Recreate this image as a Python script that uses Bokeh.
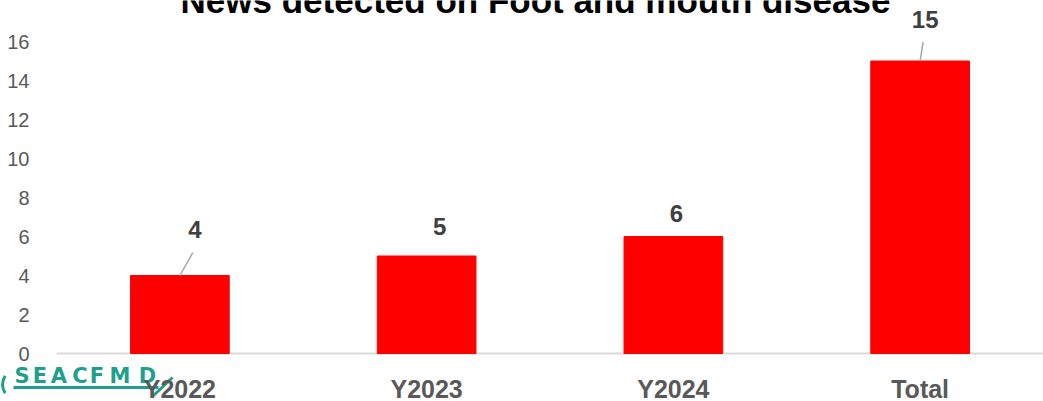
from bokeh.plotting import figure
from bokeh.models import ColumnDataSource, FixedTicker, Range1d
from bokeh.embed import file_html
from bokeh.resources import INLINE
from bokeh.core.properties import value
import math

# ---- data ----
categories = ["Y2022", "Y2023", "Y2024", "Total"]
counts = [4, 5, 6, 15]
y_ticks = [0, 2, 4, 6, 8, 10, 12, 14, 16]
title_text = "News detected on Foot and mouth disease"
logo_text = "SEACFMD"

# label placement (pixel offsets relative to bar top centre) - style only
label_dx = [15, 13, 3, 5]
label_dy = [46, 30, 23, 42]
has_leader = [True, False, False, True]

W, H = 1043, 401
LEFT = 56              # pixel column where the plotting area starts
AXIS_PX = 353          # pixel row of the zero line
px_per_unit = 19.5
y_top = AXIS_PX / px_per_unit
y_bottom = -(H - AXIS_PX) / px_per_unit
ncat = len(categories)
px_per_cat = (W - LEFT) / ncat
x_left = -LEFT / px_per_cat

xs = [i + 0.5 for i in range(ncat)]


def px2x(px):
    return (px - LEFT) / px_per_cat


def py2y(py):
    return (AXIS_PX - py) / px_per_unit


p = figure(width=W, height=H, output_backend="svg", toolbar_location=None,
           x_range=Range1d(x_left, ncat), y_range=Range1d(y_bottom, y_top),
           x_axis_location=None,
           min_border_left=0, min_border_right=0, min_border_top=0,
           min_border_bottom=0, outline_line_color=None)
p.background_fill_color = "white"
p.border_fill_color = "white"
p.xgrid.grid_line_color = None
p.ygrid.grid_line_color = None

# y axis drawn inside the canvas at the plot-area's left edge
p.yaxis.fixed_location = 0
p.yaxis.ticker = FixedTicker(ticks=y_ticks)
p.yaxis.axis_line_color = None
p.yaxis.major_tick_line_color = None
p.yaxis.minor_tick_line_color = None
p.yaxis.major_label_standoff = 21
p.yaxis.major_label_text_font = "Liberation Sans"
p.yaxis.major_label_text_font_size = "20px"
p.yaxis.major_label_text_color = "#595959"

# logo (bottom-left), drawn beneath category labels
teal = "#1fa08e"
logo_cx = [21.5, 39.5, 58.5, 79.5, 96.5, 119.5, 147]
p.text(x=[px2x(c) for c in logo_cx], y=[py2y(375)] * len(logo_text), text=list(logo_text),
       text_align="center", text_baseline="middle",
       text_font=value("DejaVu Sans"), text_font_style="bold",
       text_font_size="21px", text_color=teal)
p.segment(x0=[px2x(13)], y0=[py2y(387)], x1=[px2x(158)], y1=[py2y(387)],
          line_color=teal, line_width=3)
p.arc(x=[px2x(17)], y=[py2y(384)], radius=15, radius_units="screen",
      start_angle=math.radians(145), end_angle=math.radians(215),
      line_color=teal, line_width=3)
p.segment(x0=[px2x(152)], y0=[py2y(396)], x1=[px2x(172)], y1=[py2y(377)],
          line_color=teal, line_width=3)

# baseline of the plotting area
p.segment(x0=[px2x(LEFT)], y0=[0], x1=[ncat], y1=[0], line_color="#d9d9d9", line_width=2)

# bars
src = ColumnDataSource(dict(x=xs, top=counts))
p.vbar(x="x", top="top", bottom=0, width=0.4, source=src, color="#ff0000")

# category labels
cat_src = ColumnDataSource(dict(x=xs, y=[0] * ncat, text=categories))
p.text(x="x", y="y", text="text", source=cat_src, y_offset=35,
       text_align="center", text_baseline="middle",
       text_font=value("Liberation Sans"), text_font_style="bold",
       text_font_size="25px", text_color="#595959")

# data labels
lab = ColumnDataSource(dict(
    x=xs, y=counts, text=[str(c) for c in counts],
    xo=label_dx, yo=[-d for d in label_dy]))
p.text(x="x", y="y", text="text", source=lab, x_offset="xo", y_offset="yo",
       text_align="center", text_baseline="middle",
       text_font=value("Liberation Sans"), text_font_style="bold",
       text_font_size="24px", text_color="#404040")

# leader lines
lx0, ly0, lx1, ly1 = [], [], [], []
for x, c, dx, dy, hl in zip(xs, counts, label_dx, label_dy, has_leader):
    if hl:
        lx0.append(x)
        ly0.append(c)
        lx1.append(x + (dx - 2) / px_per_cat)
        ly1.append(c + (dy - 23) / px_per_unit)
p.segment(x0=lx0, y0=ly0, x1=lx1, y1=ly1, line_color="#a6a6a6", line_width=1.5)

# title (cropped at top of the picture)
p.text(x=[px2x(535)], y=[py2y(0)], text=[title_text],
       text_align="center", text_baseline="middle",
       text_font=value("Liberation Sans"), text_font_style="bold",
       text_font_size="35px", text_color="#000000")

open("out.html", "w").write(file_html(p, INLINE))
